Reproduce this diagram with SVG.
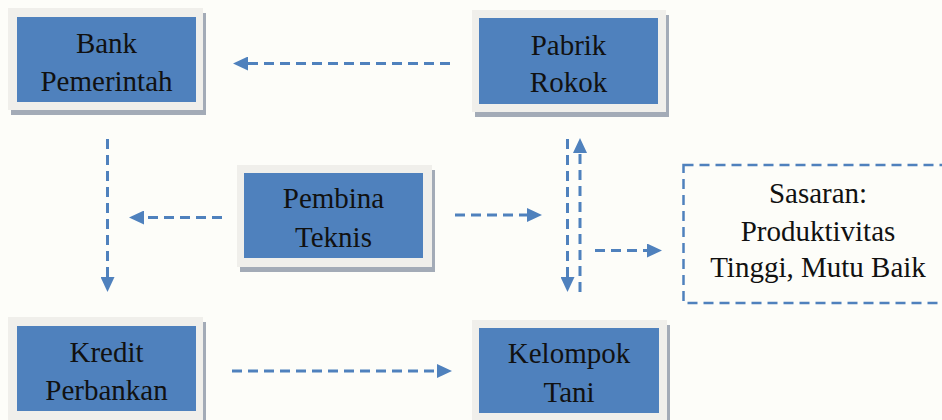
<svg xmlns="http://www.w3.org/2000/svg" width="942" height="420" viewBox="0 0 942 420">
  <style>
    .shadow { fill: #a3abb7; }
    .frame { fill: #f0efeb; }
    .box { fill: #4f81bd; }
    .label { font-family: "Liberation Serif", "Times New Roman", serif; font-size: 29px; fill: #111111; text-anchor: middle; }
    .conn { stroke: #4f81bd; stroke-width: 3; stroke-dasharray: 10 6; fill: none; }
    .goal { stroke: #4f81bd; stroke-width: 2.5; stroke-dasharray: 10 6; fill: none; }
  </style>
  <defs>
    <marker id="arrow" viewBox="0 0 15 14" refX="0" refY="7" markerWidth="15" markerHeight="14" markerUnits="userSpaceOnUse" orient="auto">
      <path d="M0,0 L15,7 L0,14 Z" fill="#4f81bd"/>
    </marker>
  </defs>
  <rect x="0" y="0" width="942" height="420" fill="#fdfdf9"/>

  <g id="bank-pemerintah">
    <rect class="shadow" x="11" y="13" width="195" height="102"/>
    <rect class="frame" x="8" y="8" width="195" height="102"/>
    <rect class="box" x="17" y="17" width="179" height="85"/>
    <text class="label" x="106.5" y="53">Bank</text>
    <text class="label" x="106.5" y="91">Pemerintah</text>
  </g>

  <g id="pabrik-rokok">
    <rect class="shadow" x="475" y="15" width="194" height="102"/>
    <rect class="frame" x="472" y="10" width="194" height="102"/>
    <rect class="box" x="479" y="18" width="179" height="86"/>
    <text class="label" x="568.5" y="55">Pabrik</text>
    <text class="label" x="568.5" y="92">Rokok</text>
  </g>

  <g id="pembina-teknis">
    <rect class="shadow" x="240" y="170" width="195" height="102"/>
    <rect class="frame" x="237" y="165" width="195" height="102"/>
    <rect class="box" x="244" y="173" width="179" height="85"/>
    <text class="label" x="333.5" y="208">Pembina</text>
    <text class="label" x="333.5" y="247">Teknis</text>
  </g>

  <g id="kredit-perbankan">
    <rect class="shadow" x="11" y="322" width="195" height="103"/>
    <rect class="frame" x="8" y="317" width="195" height="103"/>
    <rect class="box" x="17" y="326" width="179" height="85"/>
    <text class="label" x="106.5" y="362">Kredit</text>
    <text class="label" x="106.5" y="400">Perbankan</text>
  </g>

  <g id="kelompok-tani">
    <rect class="shadow" x="475" y="325" width="195" height="103"/>
    <rect class="frame" x="472" y="320" width="195" height="103"/>
    <rect class="box" x="479" y="328" width="180" height="85"/>
    <text class="label" x="569" y="363">Kelompok</text>
    <text class="label" x="569" y="402">Tani</text>
  </g>

  <g id="sasaran">
    <rect class="goal" x="683.5" y="165" width="290" height="138"/>
    <text class="label" x="818" y="203">Sasaran:</text>
    <text class="label" x="818" y="241">Produktivitas</text>
    <text class="label" x="818" y="277">Tinggi, Mutu Baik</text>
  </g>

  <g id="connectors">
    <line class="conn" x1="450" y1="63.5" x2="248" y2="63.5" marker-end="url(#arrow)"/>
    <line class="conn" x1="107.5" y1="139" x2="107.5" y2="277" marker-end="url(#arrow)"/>
    <line class="conn" x1="222" y1="217.5" x2="144" y2="217.5" marker-end="url(#arrow)"/>
    <line class="conn" x1="455" y1="215" x2="527" y2="215" marker-end="url(#arrow)"/>
    <line class="conn" x1="232" y1="371" x2="437" y2="371" marker-end="url(#arrow)"/>
    <line class="conn" x1="567.5" y1="139" x2="567.5" y2="277" marker-end="url(#arrow)"/>
    <line class="conn" x1="580" y1="292" x2="580" y2="153" marker-end="url(#arrow)"/>
    <line class="conn" x1="595" y1="250.5" x2="647" y2="250.5" marker-end="url(#arrow)"/>
  </g>
</svg>
